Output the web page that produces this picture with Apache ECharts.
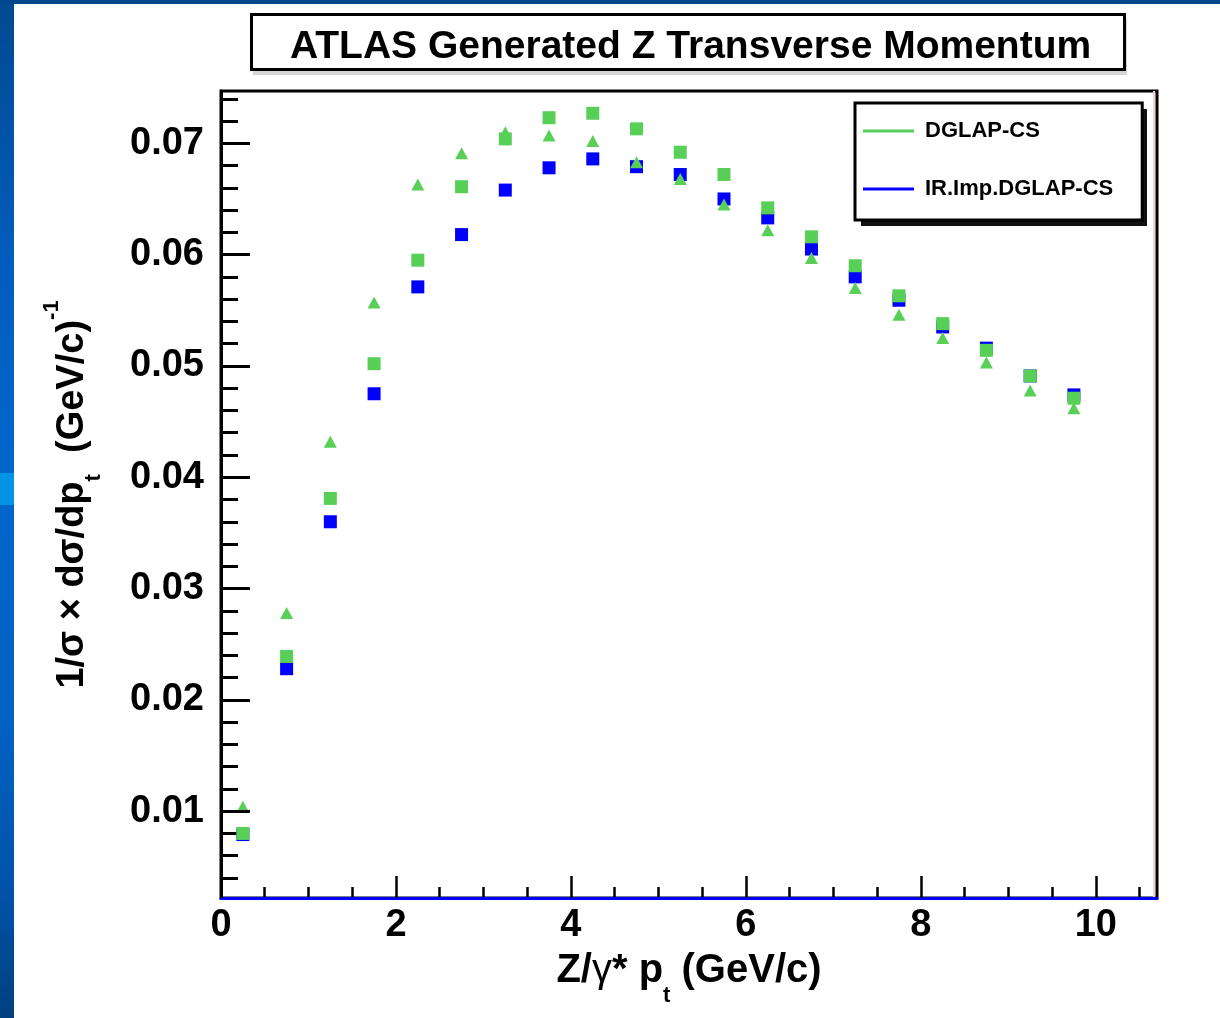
<!DOCTYPE html>
<html>
<head>
<meta charset="utf-8">
<script src="https://cdn.jsdelivr.net/npm/echarts@6/dist/echarts.min.js"></script>
<style>
html,body{margin:0;padding:0;background:#fff;}
#chart{width:1220px;height:1018px;}
</style>
</head>
<body>
<div id="chart"></div>
<script>
// ---- data ----
const ptBins = [0.25, 0.75, 1.25, 1.75, 2.25, 2.75, 3.25, 3.75, 4.25, 4.75,
                5.25, 5.75, 6.25, 6.75, 7.25, 7.75, 8.25, 8.75, 9.25, 9.75];
const dglapSquares = [0.0080, 0.0239, 0.0381, 0.0502, 0.0595, 0.0661, 0.0704, 0.0723, 0.0727, 0.0713,
                      0.0692, 0.0672, 0.0642, 0.0616, 0.0590, 0.0563, 0.0538, 0.0514, 0.0491, 0.0471];
const irImpSquares = [0.0079, 0.0228, 0.0360, 0.0475, 0.0571, 0.0618, 0.0658, 0.0678, 0.0686, 0.0679,
                      0.0672, 0.0650, 0.0633, 0.0605, 0.0580, 0.0559, 0.0535, 0.0516, 0.0491, 0.0474];
const dglapTriangles = [0.0104, 0.0278, 0.0432, 0.0557, 0.0663, 0.0691, 0.0710, 0.0707, 0.0702, 0.0683,
                        0.0668, 0.0645, 0.0622, 0.0597, 0.0570, 0.0546, 0.0525, 0.0503, 0.0478, 0.0462];
const legendNames = ['DGLAP-CS', 'IR.Imp.DGLAP-CS'];
const xMajorTicks = [0, 2, 4, 6, 8, 10];
const xMinorTicks = [0.5, 1, 1.5, 2.5, 3, 3.5, 4.5, 5, 5.5, 6.5, 7, 7.5, 8.5, 9, 9.5, 10.5];
const yMajorTicks = [0.01, 0.02, 0.03, 0.04, 0.05, 0.06, 0.07];
const yMinorTicks = [0.004, 0.006, 0.008, 0.012, 0.014, 0.016, 0.018, 0.022, 0.024, 0.026, 0.028,
                     0.032, 0.034, 0.036, 0.038, 0.042, 0.044, 0.046, 0.048, 0.052, 0.054, 0.056, 0.058,
                     0.062, 0.064, 0.066, 0.068, 0.072, 0.074];
const titleText = 'ATLAS Generated Z Transverse Momentum';

const FONT = "'Liberation Sans', Arial, Helvetica, sans-serif";
const GREEN = '#58d058';
const BLUE = '#0000ff';

function pairs(xs, ys) { return xs.map((x, i) => [x, ys[i]]); }

const chart = echarts.init(document.getElementById('chart'), null, {renderer: 'canvas'});
const option = {
  backgroundColor: '#ffffff',
  animation: false,
  title: {
    text: titleText,
    left: 251, top: 14, z: 10,
    padding: [13, 34, 3, 39],
    borderColor: '#000', borderWidth: 3,
    backgroundColor: '#fff',
    textStyle: {fontFamily: FONT, fontWeight: 'bold', fontSize: 39, lineHeight: 40, color: '#000'}
  },
  legend: {
    data: legendNames.map(n => ({name: n, icon: 'rect'})),
    orient: 'vertical',
    left: 855, top: 103, z: 10,
    itemWidth: 51, itemHeight: 3, itemGap: 34,
    padding: [16, 29, 19, 8],
    borderColor: '#000', borderWidth: 3,
    backgroundColor: '#fff',
    selectedMode: false,
    textStyle: {fontFamily: FONT, fontWeight: 'bold', fontSize: 22, lineHeight: 24, color: '#000', padding: [0, 0, 0, 6]}
  },
  grid: {
    left: 221, right: 63, top: 91, bottom: 120,
    containLabel: false, outerBoundsMode: 'none',
    show: true, borderColor: '#000', borderWidth: 3, backgroundColor: '#fff'
  },
  xAxis: [{
    type: 'value', min: 0, max: 10.7, position: 'bottom', z: 5,
    axisLine: {show: true, onZero: false, lineStyle: {color: BLUE, width: 3}},
    axisTick: {show: true, inside: true, length: 22, customValues: xMajorTicks, lineStyle: {color: '#000', width: 2.5}},
    axisLabel: {show: true, customValues: xMajorTicks, margin: 9, fontFamily: FONT, fontWeight: 'bold', fontSize: 38, lineHeight: 38, color: '#000',
      formatter: v => String(v)},
    splitLine: {show: false},
    name: '{m|Z/}{g|γ}{m|* p}{s|t}{m| (GeV/c)}',
    nameLocation: 'middle', nameGap: 37, nameMoveOverlap: false,
    nameTextStyle: {fontFamily: FONT, fontWeight: 'bold', fontSize: 40, color: '#000',
      rich: {
        m: {fontFamily: FONT, fontWeight: 'bold', fontSize: 40, lineHeight: 72, color: '#000'},
        g: {fontFamily: FONT, fontWeight: 'normal', fontSize: 40, lineHeight: 72, color: '#000'},
        s: {fontFamily: FONT, fontWeight: 'bold', fontSize: 22, lineHeight: 22, verticalAlign: 'bottom', color: '#000'}
      }}
  }, {
    type: 'value', min: 0, max: 10.7, position: 'bottom',
    axisLine: {show: false},
    axisTick: {show: true, inside: true, length: 11, customValues: xMinorTicks, lineStyle: {color: '#000', width: 2.5}},
    axisLabel: {show: false},
    splitLine: {show: false}
  }],
  yAxis: [{
    type: 'value', min: 0.0022, max: 0.0747, position: 'left', z: 5,
    axisLine: {show: true, onZero: false, lineStyle: {color: '#000', width: 3}},
    axisTick: {show: true, inside: true, length: 29, customValues: yMajorTicks, lineStyle: {color: '#000', width: 3}},
    axisLabel: {show: true, customValues: yMajorTicks, margin: 17, fontFamily: FONT, fontWeight: 'bold', fontSize: 38, color: '#000',
      formatter: v => v.toFixed(2)},
    splitLine: {show: false},
    name: '{m|1/σ × dσ/dp}{s|t}{m|  (GeV/c)}{p|-1}',
    nameLocation: 'middle', nameRotate: 90, nameGap: 116, nameMoveOverlap: false,
    nameTextStyle: {fontFamily: FONT, fontWeight: 'bold', fontSize: 38, color: '#000',
      rich: {
        m: {fontFamily: FONT, fontWeight: 'bold', fontSize: 38, lineHeight: 64, color: '#000'},
        s: {fontFamily: FONT, fontWeight: 'bold', fontSize: 22, lineHeight: 22, verticalAlign: 'bottom', color: '#000'},
        p: {fontFamily: FONT, fontWeight: 'bold', fontSize: 22, lineHeight: 50, verticalAlign: 'top', color: '#000'}
      }}
  }, {
    type: 'value', min: 0.0022, max: 0.0747, position: 'left',
    axisLine: {show: false},
    axisTick: {show: true, inside: true, length: 17, customValues: yMinorTicks, lineStyle: {color: '#000', width: 3}},
    axisLabel: {show: false},
    splitLine: {show: false}
  }],
  series: [
    {
      name: 'IR.Imp.DGLAP-CS', type: 'scatter', xAxisIndex: 0, yAxisIndex: 0,
      symbol: 'rect', symbolSize: 13,
      itemStyle: {color: BLUE, opacity: 1},
      data: pairs(ptBins, irImpSquares)
    },
    {
      name: 'DGLAP-CS', type: 'scatter', xAxisIndex: 0, yAxisIndex: 0,
      symbol: 'rect', symbolSize: 13,
      itemStyle: {color: GREEN, opacity: 1},
      data: pairs(ptBins, dglapSquares)
    },
    {
      name: 'DGLAP-CS (triangles)', type: 'scatter', xAxisIndex: 0, yAxisIndex: 0,
      symbol: 'triangle', symbolSize: [13, 12],
      itemStyle: {color: GREEN, opacity: 1},
      data: pairs(ptBins, dglapTriangles)
    }
  ],
  graphic: [
    {type: 'rect', z: -10, silent: true,
     shape: {x: 0, y: 0, width: 14, height: 1018},
     style: {fill: {type: 'linear', x: 0, y: 0, x2: 0, y2: 1, colorStops: [
       {offset: 0, color: '#004a90'}, {offset: 0.25, color: '#005cbc'}, {offset: 0.45, color: '#0066cc'},
       {offset: 0.7, color: '#0062c4'}, {offset: 0.88, color: '#0052a8'}, {offset: 1, color: '#00407e'}]}}},
    {type: 'rect', z: -9, silent: true,
     shape: {x: 0, y: 473, width: 14, height: 32},
     style: {fill: '#0094e2'}},
    {type: 'rect', z: -9, silent: true,
     shape: {x: 0, y: 0, width: 1220, height: 4},
     style: {fill: '#00468c'}},
    {type: 'rect', z: 8, silent: true,
     shape: {x: 253, y: 18, width: 874, height: 57},
     style: {fill: '#d6d6d6'}},
    {type: 'rect', z: 8, silent: true,
     shape: {x: 861, y: 109, width: 286, height: 117},
     style: {fill: '#111'}},
    {type: 'line', z: 1, silent: true,
     shape: {x1: 1154, y1: 91, x2: 1154, y2: 898},
     style: {stroke: '#f6d0d0', lineWidth: 2}}
  ]
};
chart.setOption(option);
</script>
</body>
</html>
